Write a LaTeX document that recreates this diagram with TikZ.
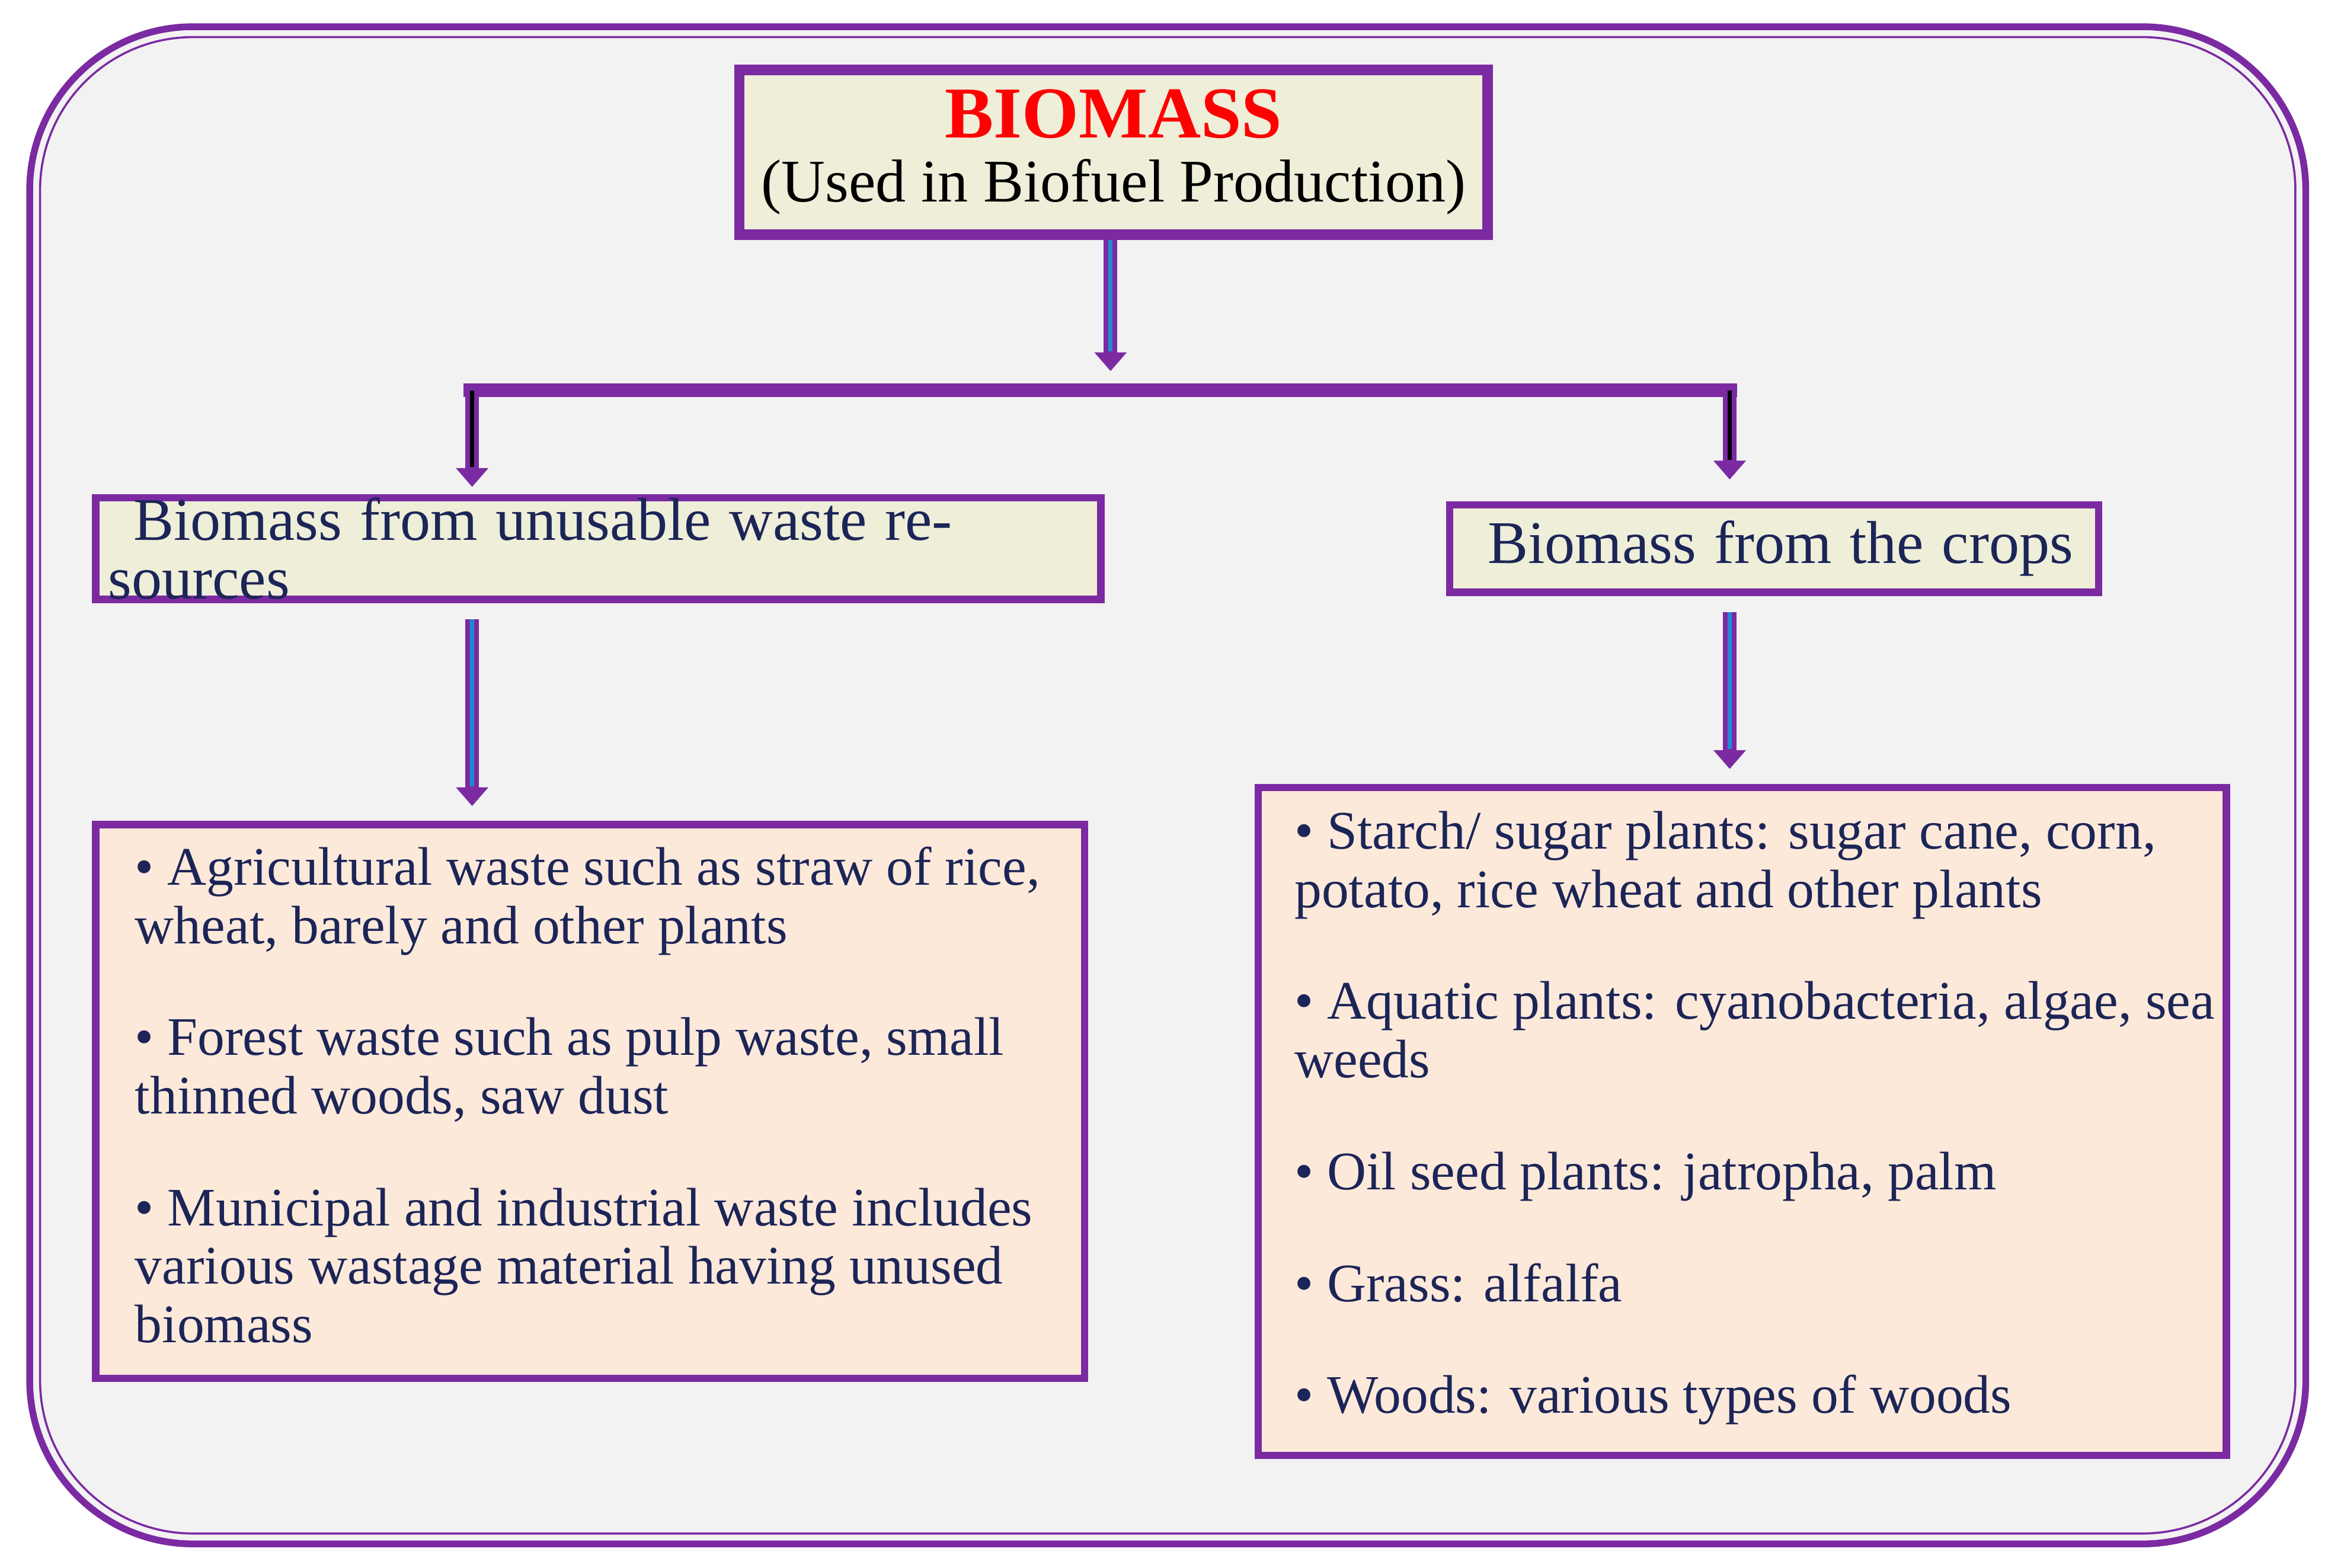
\documentclass[tikz,border=0pt]{standalone}
\usepackage{fontspec}
\setmainfont{Liberation Serif}
\usetikzlibrary{arrows.meta}
\definecolor{bmPurple}{HTML}{7B2AA2}
\definecolor{bmBlue}{HTML}{1E8BD0}
\definecolor{bmNavy}{HTML}{1C2557}
\definecolor{bmBeige}{HTML}{EEEED9}
\definecolor{bmPeach}{HTML}{FDE9DA}
\definecolor{bmGray}{HTML}{F2F2F2}
\tikzset{
  box/.style={draw=bmPurple, line width=1.4pt, rectangle, inner sep=0pt, text=bmNavy,
    font=\fontsize{10.4}{11.2}\selectfont},
  flow/.style={draw=bmPurple, line width=2.6pt, -{Triangle[width=6pt,length=3.6pt]}},
  core/.style={draw=#1, line width=0.8pt, shorten >=3.8pt},
  bar/.style={draw=bmPurple, line width=2.6pt}
}
\newcommand{\bmlist}[3]{\parbox[t][#2][t]{#1}{\raggedright #3}}
\begin{document}
\begin{tikzpicture}
\useasboundingbox (0,0) rectangle (15.68,10.56);
% frame
\draw[bmPurple, line width=1.3pt, fill=bmGray, rounded corners=1.1cm] (0.20,0.16) rectangle (15.53,10.38);
\draw[bmPurple, line width=0.4pt, rounded corners=1.03cm] (0.27,0.23) rectangle (15.46,10.31);

\node[box, line width=2pt, fill=bmBeige, minimum width=5.04cm, minimum height=1.11cm, align=center, text=black] (bio) at (7.50,9.535)
  {{\fontsize{14}{15}\selectfont\bfseries\color{red}BIOMASS}\\[1pt]{\fontsize{11.6}{12}\selectfont(Used in Biofuel Production)}};

\node[box, fill=bmBeige, minimum width=6.77cm, minimum height=0.59cm, anchor=west, text width=6.6cm, align=left] (waste) at (0.62,6.865)
  {\hspace*{0.17cm}\fontsize{11.6}{12}\selectfont Biomass from unusable waste resources};
\node[box, fill=bmBeige, minimum width=4.37cm, minimum height=0.59cm, anchor=west, text width=4.2cm, align=left] (crops) at (9.74,6.865)
  {\hspace*{0.17cm}\fontsize{11.6}{12}\selectfont Biomass from the crops};

\node[box, fill=bmPeach, minimum width=6.66cm, minimum height=3.73cm, anchor=north west] (wlist) at (0.62,5.03)
  {\hspace*{0.17cm}\bmlist{6.3cm}{3.55cm}{\vspace*{0.06cm}
  \textbullet\ Agricultural waste such as straw of rice, wheat, barely and other plants\\[0.36cm]
  \textbullet\ Forest waste such as pulp waste, small thinned woods, saw dust\\[0.36cm]
  \textbullet\ Municipal and industrial waste includes various wastage material having unused biomass}};
\node[box, fill=bmPeach, minimum width=6.52cm, minimum height=4.50cm, anchor=north west] (clist) at (8.45,5.28)
  {\hspace*{0.17cm}\bmlist{6.2cm}{4.3cm}{\vspace*{0.06cm}
  \textbullet\ Starch/ sugar plants: sugar cane, corn, potato, rice wheat and other plants\\[0.36cm]
  \textbullet\ Aquatic plants: cyanobacteria, algae, sea weeds\\[0.36cm]
  \textbullet\ Oil seed plants: jatropha, palm\\[0.36cm]
  \textbullet\ Grass: alfalfa\\[0.36cm]
  \textbullet\ Woods: various types of woods}};

% connectors
\coordinate (split) at (7.48,8.06);
\coordinate (barL) at (3.12,7.93);
\coordinate (barR) at (11.70,7.93);
\coordinate (dropL) at (3.18,7.28);
\coordinate (dropR) at (11.65,7.33);
\coordinate (wtop) at (3.18,4.13);
\coordinate (ctop) at (11.65,3.86);
\draw[bar] (barL) -- (barR);
\draw[flow] (bio.south -| split) -- (split);
\draw[core=bmBlue] (bio.south -| split) -- (split);
\draw[flow] (barL -| dropL) -- (dropL);
\draw[core=black] (barL -| dropL) -- (dropL);
\draw[flow] (barR -| dropR) -- (dropR);
\draw[core=black] (barR -| dropR) -- (dropR);
\draw[flow] ([yshift=-0.11cm]waste.south -| wtop) -- ([yshift=0.1cm]wlist.north -| wtop);
\draw[core=bmBlue] ([yshift=-0.11cm]waste.south -| wtop) -- ([yshift=0.1cm]wlist.north -| wtop);
\draw[flow] ([yshift=-0.11cm]crops.south -| ctop) -- ([yshift=0.1cm]clist.north -| ctop);
\draw[core=bmBlue] ([yshift=-0.11cm]crops.south -| ctop) -- ([yshift=0.1cm]clist.north -| ctop);
\end{tikzpicture}
\end{document}
